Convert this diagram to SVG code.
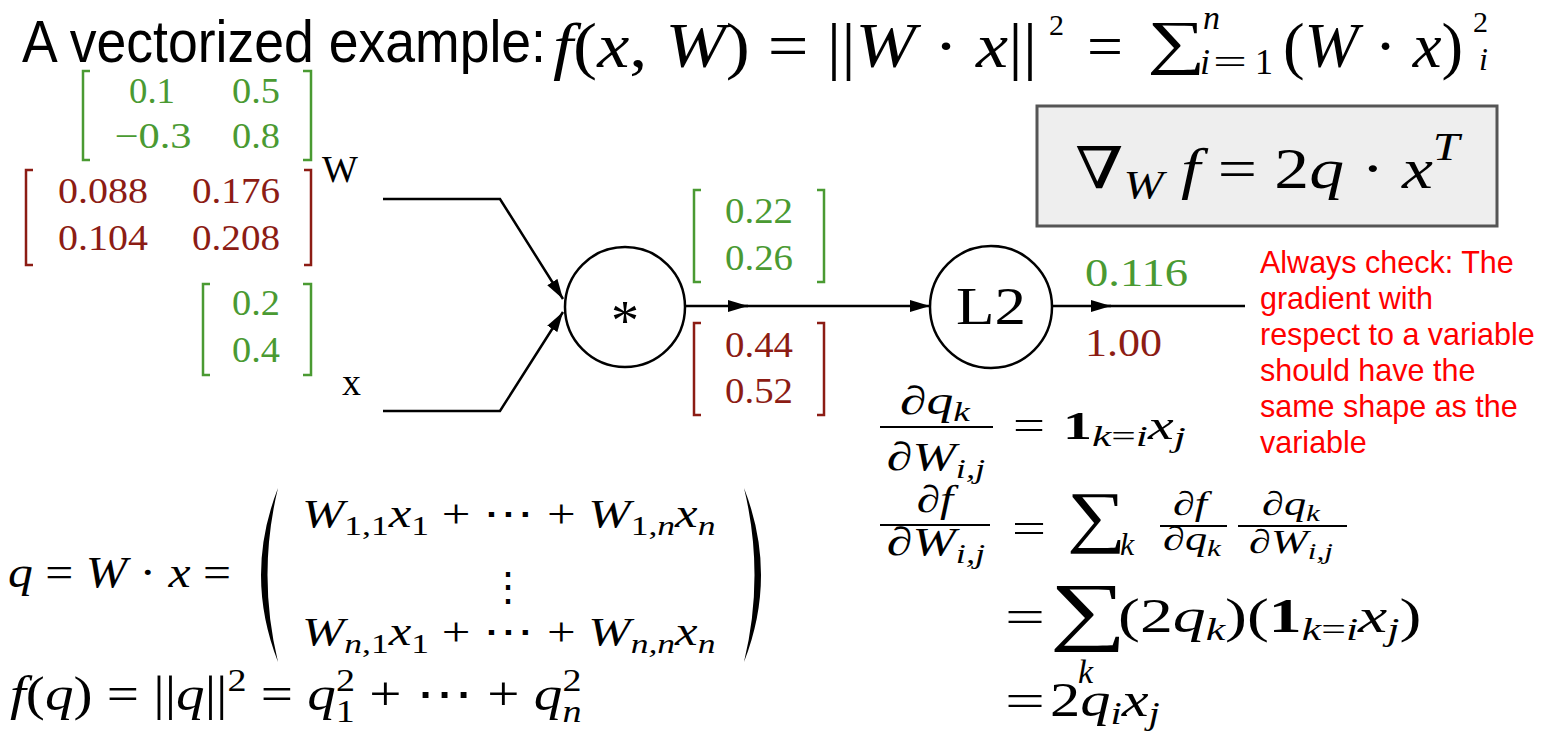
<svg xmlns="http://www.w3.org/2000/svg" width="1551" height="745" viewBox="0 0 1551 745">
<style>
.m{font-family:"Liberation Serif","DejaVu Serif",serif;fill:#000}
.i{font-style:italic}
.b{font-weight:bold}
.g{fill:#4a9a32}
.r{fill:#8c1c14}
.gs{stroke:#4a9a32;fill:none;stroke-width:2.5}
.rs{stroke:#8c1c14;fill:none;stroke-width:2.5}
.num{font-family:"Liberation Serif","DejaVu Serif",serif;font-size:36px;text-anchor:middle}
.edge{stroke:#000;stroke-width:2.5;fill:none}
.node{stroke:#000;stroke-width:2.5;fill:#fff}
.note{font-family:"Liberation Sans",Arial,sans-serif;font-size:30.5px;fill:#ff0000}
.fl{stroke:#000;stroke-width:2}
</style>
<defs>
<marker id="ah" viewBox="0 0 20 12" refX="20" refY="6" markerWidth="20" markerHeight="12" markerUnits="userSpaceOnUse" orient="auto">
<path d="M0 0 L20 6 L0 12 Z" fill="#000"/>
</marker>
</defs>
<rect width="1551" height="745" fill="#fff"/>

<!-- title -->
<g id="title">
<text x="22" y="62" font-family="Liberation Sans, Arial, sans-serif" font-size="60" textLength="524" lengthAdjust="spacingAndGlyphs">A vectorized example:</text>
<text transform="translate(553,67) scale(1.13,1)" class="m" font-size="64"><tspan class="i">f</tspan>(<tspan class="i">x</tspan>, <tspan class="i">W</tspan>) = ||<tspan class="i">W</tspan> · <tspan class="i">x</tspan>||</text>
<text x="1049" y="35" class="m" font-size="30">2</text>
<text x="1087" y="66" class="m" font-size="60" textLength="36" lengthAdjust="spacingAndGlyphs">=</text>
<text transform="translate(1147,62) scale(1.36,1)" class="m" font-size="60">∑</text>
<text x="1203" y="29" class="m i" font-size="34">n</text>
<text x="1200" y="74" class="m i" font-size="36">i</text>
<text x="1213" y="74" class="m" font-size="36" textLength="34" lengthAdjust="spacingAndGlyphs">=</text>
<text x="1255" y="74" class="m" font-size="36">1</text>
<text x="1283" y="67" class="m" font-size="64" textLength="180" lengthAdjust="spacingAndGlyphs">(<tspan class="i">W</tspan> · <tspan class="i">x</tspan>)</text>
<text x="1473" y="32" class="m" font-size="30">2</text>
<text x="1479" y="70" class="m i" font-size="32">i</text>
</g>

<!-- gradient box -->
<g id="grad-box">
<rect x="1037" y="106" width="460" height="120" fill="#eeeeee" stroke="#555" stroke-width="3"/>
<text transform="translate(1075,188) scale(1.2,1)" class="m" font-size="58">∇<tspan class="i" font-size="40" dy="10">W</tspan><tspan class="i" dy="-10"> f</tspan> = 2<tspan class="i">q</tspan> · <tspan class="i">x</tspan><tspan class="i" font-size="40" dy="-28">T</tspan></text>
</g>

<!-- W value / gradient -->
<g id="W-values">
<path class="gs" d="M90 71 H83 V160 H90"/>
<path class="gs" d="M303 71 H311 V160 H303"/>
<text class="num g" x="152" y="103" textLength="46" lengthAdjust="spacingAndGlyphs">0.1</text>
<text class="num g" x="256" y="103" textLength="48" lengthAdjust="spacingAndGlyphs">0.5</text>
<text class="num g" x="153" y="148" textLength="77" lengthAdjust="spacingAndGlyphs">−0.3</text>
<text class="num g" x="256" y="148" textLength="48" lengthAdjust="spacingAndGlyphs">0.8</text>
<path class="rs" d="M33 170 H26 V265 H33"/>
<path class="rs" d="M304 170 H311 V265 H304"/>
<text class="num r" x="103" y="203" textLength="90" lengthAdjust="spacingAndGlyphs">0.088</text>
<text class="num r" x="236" y="203" textLength="88" lengthAdjust="spacingAndGlyphs">0.176</text>
<text class="num r" x="103" y="250" textLength="90" lengthAdjust="spacingAndGlyphs">0.104</text>
<text class="num r" x="236" y="250" textLength="88" lengthAdjust="spacingAndGlyphs">0.208</text>
<text x="322" y="182" class="m" font-size="38">W</text>
</g>

<g id="x-values">
<path class="gs" d="M210 284 H203 V375 H210"/>
<path class="gs" d="M303 284 H311 V375 H303"/>
<text class="num g" x="256" y="315" textLength="48" lengthAdjust="spacingAndGlyphs">0.2</text>
<text class="num g" x="256" y="362" textLength="48" lengthAdjust="spacingAndGlyphs">0.4</text>
<text x="342" y="395" class="m" font-size="38">x</text>
</g>

<!-- connectors -->
<g id="connectors">
<path class="edge" d="M383 199 H500 L563 299" marker-end="url(#ah)"/>
<path class="edge" d="M383 411 H500 L563 312" marker-end="url(#ah)"/>
<path class="edge" d="M686 306 H748" marker-end="url(#ah)"/>
<path class="edge" d="M740 306 H930" marker-end="url(#ah)"/>
<path class="edge" d="M1052 306 H1111" marker-end="url(#ah)"/>
<path class="edge" d="M1100 306 H1245"/>
</g>

<g id="mul-node">
<circle class="node" cx="625" cy="307" r="60"/>
<text x="625" y="340" class="m" font-size="56" text-anchor="middle">*</text>
</g>

<g id="q-values">
<path class="gs" d="M701 190 H694 V282 H701"/>
<path class="gs" d="M817 190 H824 V282 H817"/>
<text class="num g" x="759" y="223" textLength="68" lengthAdjust="spacingAndGlyphs">0.22</text>
<text class="num g" x="759" y="270" textLength="68" lengthAdjust="spacingAndGlyphs">0.26</text>
<path class="rs" d="M701 323 H694 V415 H701"/>
<path class="rs" d="M817 323 H824 V415 H817"/>
<text class="num r" x="759" y="357" textLength="68" lengthAdjust="spacingAndGlyphs">0.44</text>
<text class="num r" x="759" y="403" textLength="68" lengthAdjust="spacingAndGlyphs">0.52</text>
</g>

<g id="l2-node">
<circle class="node" cx="991" cy="307" r="61"/>
<text x="991" y="324" class="m" font-size="52" text-anchor="middle" textLength="70" lengthAdjust="spacingAndGlyphs">L2</text>
</g>

<g id="f-values">
<text class="m g" x="1085" y="286" font-size="40" textLength="103" lengthAdjust="spacingAndGlyphs">0.116</text>
<text class="m r" x="1085" y="356" font-size="40" textLength="77" lengthAdjust="spacingAndGlyphs">1.00</text>
</g>

<g id="note">
<text class="note" x="1260" y="273">Always check: The</text>
<text class="note" x="1260" y="309">gradient with</text>
<text class="note" x="1260" y="345">respect to a variable</text>
<text class="note" x="1260" y="381">should have the</text>
<text class="note" x="1260" y="417">same shape as the</text>
<text class="note" x="1260" y="453">variable</text>
</g>

<!-- left equations -->
<g id="q-eq">
<text transform="translate(8,587) scale(1.13,1)" class="m" font-size="44"><tspan class="i">q</tspan> = <tspan class="i">W</tspan> · <tspan class="i">x</tspan> =</text>
<path d="M278 488 Q244 575 278 662 Q257 575 278 488 Z" fill="#000"/>
<path d="M744 488 Q778 575 744 662 Q765 575 744 488 Z" fill="#000"/>
<text transform="translate(302,527) scale(1.27,1)" class="m" font-size="40"><tspan class="i">W</tspan><tspan font-size="28" dy="8">1,1</tspan><tspan class="i" dy="-8">x</tspan><tspan font-size="28" dy="8">1</tspan><tspan dy="-8"> + ⋯ + </tspan><tspan class="i">W</tspan><tspan font-size="28" dy="8">1,<tspan class="i">n</tspan></tspan><tspan class="i" dy="-8">x</tspan><tspan class="i" font-size="28" dy="8">n</tspan></text>
<text x="508" y="600" class="m" font-size="40" text-anchor="middle">⋮</text>
<text transform="translate(302,645) scale(1.27,1)" class="m" font-size="40"><tspan class="i">W</tspan><tspan font-size="28" dy="8"><tspan class="i">n</tspan>,1</tspan><tspan class="i" dy="-8">x</tspan><tspan font-size="28" dy="8">1</tspan><tspan dy="-8"> + ⋯ + </tspan><tspan class="i">W</tspan><tspan class="i" font-size="28" dy="8">n,n</tspan><tspan class="i" dy="-8">x</tspan><tspan class="i" font-size="28" dy="8">n</tspan></text>
</g>
<g id="f-eq">
<text transform="translate(10,710) scale(1.19,1)" class="m" font-size="48"><tspan class="i">f</tspan>(<tspan class="i">q</tspan>) = ||<tspan class="i">q</tspan>||<tspan font-size="32" dy="-19">2</tspan><tspan dy="19"> = </tspan><tspan class="i">q</tspan><tspan font-size="32" dy="-19">2</tspan><tspan font-size="32" dx="-16" dy="31">1</tspan><tspan dy="-12"> + ⋯ + </tspan><tspan class="i">q</tspan><tspan font-size="32" dy="-19">2</tspan><tspan class="i" font-size="32" dx="-16" dy="31">n</tspan></text>
</g>

<!-- right derivative equations -->
<g id="dq-eq">
<text transform="translate(935,414) scale(1.34,1)" class="m" font-size="40" text-anchor="middle">∂<tspan class="i">q</tspan><tspan class="i" font-size="28" dy="7">k</tspan></text>
<line class="fl" x1="880" y1="427" x2="993" y2="427"/>
<text transform="translate(936,470) scale(1.3,1)" class="m" font-size="40" text-anchor="middle">∂<tspan class="i">W</tspan><tspan class="i" font-size="28" dy="8">i,j</tspan></text>
<text x="1013" y="439" class="m" font-size="42" textLength="32" lengthAdjust="spacingAndGlyphs">=</text>
<text transform="translate(1063,439) scale(1.45,1)" class="m" font-size="40"><tspan class="b">1</tspan><tspan class="i" font-size="30" dy="7">k</tspan><tspan font-size="30">=</tspan><tspan class="i" font-size="30">i</tspan><tspan class="i" dy="-7">x</tspan><tspan class="i" font-size="30" dy="8">j</tspan></text>
</g>
<g id="df-eq">
<text transform="translate(935,512) scale(1.25,1)" class="m" font-size="38" text-anchor="middle">∂<tspan class="i">f</tspan></text>
<line class="fl" x1="880" y1="525" x2="990" y2="525"/>
<text transform="translate(936,555) scale(1.3,1)" class="m" font-size="40" text-anchor="middle">∂<tspan class="i">W</tspan><tspan class="i" font-size="28" dy="8">i,j</tspan></text>
<text x="1012" y="542" class="m" font-size="42" textLength="34" lengthAdjust="spacingAndGlyphs">=</text>
<text transform="translate(1067,539) scale(1.22,1)" class="m" font-size="68">∑</text>
<text x="1120" y="555" class="m i" font-size="32">k</text>
<text transform="translate(1190,515) scale(1.3,1)" class="m" font-size="34" text-anchor="middle">∂<tspan class="i">f</tspan></text>
<line class="fl" x1="1160" y1="526" x2="1227" y2="526"/>
<text transform="translate(1192,550) scale(1.3,1)" class="m" font-size="34" text-anchor="middle">∂<tspan class="i">q</tspan><tspan class="i" font-size="24" dy="6">k</tspan></text>
<text transform="translate(1291,515) scale(1.3,1)" class="m" font-size="34" text-anchor="middle">∂<tspan class="i">q</tspan><tspan class="i" font-size="24" dy="6">k</tspan></text>
<line class="fl" x1="1238" y1="526" x2="1347" y2="526"/>
<text transform="translate(1291,553) scale(1.3,1)" class="m" font-size="34" text-anchor="middle">∂<tspan class="i">W</tspan><tspan class="i" font-size="24" dy="6">i,j</tspan></text>
</g>
<g id="sum-eq">
<text x="1005" y="632" class="m" font-size="46" textLength="40" lengthAdjust="spacingAndGlyphs">=</text>
<text transform="translate(1050,636) scale(1.42,1)" class="m" font-size="76">∑</text>
<text x="1078" y="683" class="m i" font-size="34">k</text>
<text transform="translate(1118,632) scale(1.37,1)" class="m" font-size="48">(2<tspan class="i">q</tspan><tspan class="i" font-size="32" dy="8">k</tspan><tspan dy="-8">)(</tspan><tspan class="b">1</tspan><tspan class="i" font-size="32" dy="8">k</tspan><tspan font-size="32">=</tspan><tspan class="i" font-size="32">i</tspan><tspan class="i" dy="-8">x</tspan><tspan class="i" font-size="32" dy="8">j</tspan><tspan dy="-8">)</tspan></text>
<text x="1005" y="716" class="m" font-size="46" textLength="40" lengthAdjust="spacingAndGlyphs">=</text>
<text transform="translate(1050,716) scale(1.26,1)" class="m" font-size="48">2<tspan class="i">q</tspan><tspan class="i" font-size="32" dy="8">i</tspan><tspan class="i" dy="-8">x</tspan><tspan class="i" font-size="32" dy="8">j</tspan></text>
</g>
</svg>
